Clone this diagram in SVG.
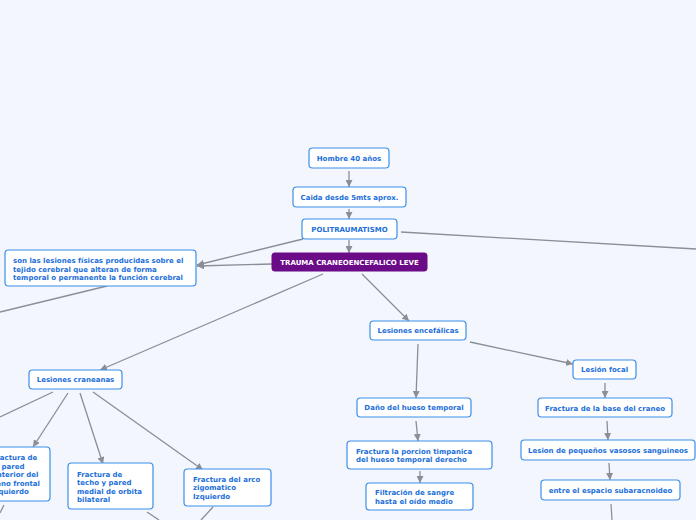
<svg xmlns="http://www.w3.org/2000/svg" width="696" height="520" viewBox="0 0 696 520">
<defs>
<style>
.bg{fill:#f3f6fd}
.box{fill:#ffffff;stroke:#3b8fe9;stroke-width:1.2}
.main{fill:#6b0b88;stroke:#6b0b88;stroke-width:1}
.t{font-family:"DejaVu Sans",Verdana,sans-serif;font-weight:bold;font-size:7px;fill:#1c6fd9}
.c{text-anchor:middle}
.w{fill:#ffffff}
.ln{stroke:#8b8e96;stroke-width:1.3;fill:none}
</style>
<marker id="ah" viewBox="0 0 10 10" refX="10" refY="5" markerWidth="7" markerHeight="7" markerUnits="userSpaceOnUse" orient="auto">
<path d="M0,0 L10,5 L0,10 Z" fill="#8b8e96"/>
</marker>
</defs>
<rect class="bg" x="0" y="0" width="696" height="520"/>
<g id="connectors">
<line class="ln" x1="349" y1="171" x2="349" y2="187" marker-end="url(#ah)"/>
<line class="ln" x1="349" y1="209" x2="349" y2="219" marker-end="url(#ah)"/>
<line class="ln" x1="349" y1="240" x2="349" y2="253" marker-end="url(#ah)"/>
<line class="ln" x1="303" y1="239" x2="197" y2="265" marker-end="url(#ah)"/>
<line class="ln" x1="272" y1="264" x2="197" y2="266" marker-end="url(#ah)"/>
<line class="ln" x1="401" y1="232" x2="696" y2="249"/>
<line class="ln" x1="107" y1="286" x2="0" y2="312"/>
<line class="ln" x1="323" y1="274" x2="100" y2="370" marker-end="url(#ah)"/>
<line class="ln" x1="362" y1="274" x2="409" y2="321" marker-end="url(#ah)"/>
<line class="ln" x1="418" y1="344" x2="416" y2="398" marker-end="url(#ah)"/>
<line class="ln" x1="416" y1="421" x2="418" y2="441" marker-end="url(#ah)"/>
<line class="ln" x1="420" y1="471" x2="420" y2="483" marker-end="url(#ah)"/>
<line class="ln" x1="470" y1="342" x2="573" y2="364" marker-end="url(#ah)"/>
<line class="ln" x1="605" y1="383" x2="605" y2="398" marker-end="url(#ah)"/>
<line class="ln" x1="607" y1="421" x2="608" y2="440" marker-end="url(#ah)"/>
<line class="ln" x1="609" y1="463" x2="610" y2="480" marker-end="url(#ah)"/>
<line class="ln" x1="611" y1="504" x2="612" y2="520"/>
<line class="ln" x1="53" y1="392" x2="0" y2="417"/>
<line class="ln" x1="68" y1="393" x2="33" y2="447" marker-end="url(#ah)"/>
<line class="ln" x1="80" y1="393" x2="103" y2="464" marker-end="url(#ah)"/>
<line class="ln" x1="93" y1="392" x2="203" y2="470" marker-end="url(#ah)"/>
<line class="ln" x1="147" y1="512" x2="159" y2="520"/>
<line class="ln" x1="213" y1="507" x2="201" y2="520"/>
<line class="ln" x1="4" y1="505" x2="0" y2="513"/>
</g>
<g id="n-hombre">
<rect class="box" x="309" y="148" width="80" height="20" rx="3.5"/>
<text class="t c" x="349" y="160.5">Hombre 40 años</text>
</g>
<g id="n-caida">
<rect class="box" x="293" y="187" width="113" height="20" rx="3.5"/>
<text class="t c" x="349.5" y="199.5">Caida desde 5mts aprox.</text>
</g>
<g id="n-poli">
<rect class="box" x="302" y="219" width="95" height="20" rx="3.5"/>
<text class="t c" x="349.5" y="231.5">POLITRAUMATISMO</text>
</g>
<g id="n-trauma">
<rect class="main" x="272" y="253" width="155" height="18" rx="2.5"/>
<text class="t c w" x="349.5" y="264.5">TRAUMA CRANEOENCEFALICO LEVE</text>
</g>
<g id="n-def">
<rect class="box" x="5" y="250" width="191" height="36" rx="3.5"/>
<text class="t" x="13" y="263">son las lesiones físicas producidas sobre el</text>
<text class="t" x="13" y="271.5">tejido cerebral que alteran de forma</text>
<text class="t" x="13" y="280">temporal o permanente la función cerebral</text>
</g>
<g id="n-craneanas">
<rect class="box" x="29" y="370" width="93" height="19" rx="3.5"/>
<text class="t c" x="75.5" y="382">Lesiones craneanas</text>
</g>
<g id="n-pared">
<rect class="box" x="-16" y="447" width="66" height="54" rx="3.5"/>
<text class="t" x="-8" y="460">Fractura de</text>
<text class="t" x="-8" y="468.5">la pared</text>
<text class="t" x="-8" y="477">anterior del</text>
<text class="t" x="-8" y="485.5">seno frontal</text>
<text class="t" x="-8" y="494">izquierdo</text>
</g>
<g id="n-techo">
<rect class="box" x="68" y="463" width="85" height="46" rx="3.5"/>
<text class="t" x="77" y="476.5">Fractura de</text>
<text class="t" x="77" y="485">techo y pared</text>
<text class="t" x="77" y="493.5">medial de orbita</text>
<text class="t" x="77" y="502">bilateral</text>
</g>
<g id="n-arco">
<rect class="box" x="184" y="469" width="87" height="37" rx="3.5"/>
<text class="t" x="193" y="481.5">Fractura del arco</text>
<text class="t" x="193" y="490">zigomatico</text>
<text class="t" x="193" y="498.5">Izquierdo</text>
</g>
<g id="n-encef">
<rect class="box" x="370" y="321" width="96" height="19" rx="3.5"/>
<text class="t c" x="418" y="333">Lesiones encefálicas</text>
</g>
<g id="n-dano">
<rect class="box" x="357" y="398" width="114" height="19" rx="3.5"/>
<text class="t c" x="414" y="410">Daño del hueso temporal</text>
</g>
<g id="n-timpanica">
<rect class="box" x="347" y="441" width="145" height="28" rx="3.5"/>
<text class="t" x="356" y="453.5">Fractura la porcion timpanica</text>
<text class="t" x="356" y="462">del hueso temporal derecho</text>
</g>
<g id="n-filtracion">
<rect class="box" x="366" y="483" width="107" height="27" rx="3.5"/>
<text class="t" x="375" y="495">Filtración de sangre</text>
<text class="t" x="375" y="504">hasta el oído medio</text>
</g>
<g id="n-focal">
<rect class="box" x="573" y="360" width="63" height="19" rx="3.5"/>
<text class="t c" x="604.5" y="372">Lesión focal</text>
</g>
<g id="n-base">
<rect class="box" x="538" y="398" width="134" height="19" rx="3.5"/>
<text class="t c" x="605" y="410.5">Fractura de la base del craneo</text>
</g>
<g id="n-vasos">
<rect class="box" x="521" y="440" width="174" height="20" rx="3.5"/>
<text class="t c" x="608" y="452.5">Lesion de pequeños vasosos sanguineos</text>
</g>
<g id="n-entre">
<rect class="box" x="541" y="480" width="139" height="20" rx="3.5"/>
<text class="t c" x="610.5" y="492.5">entre el espacio subaracnoideo</text>
</g>
</svg>
